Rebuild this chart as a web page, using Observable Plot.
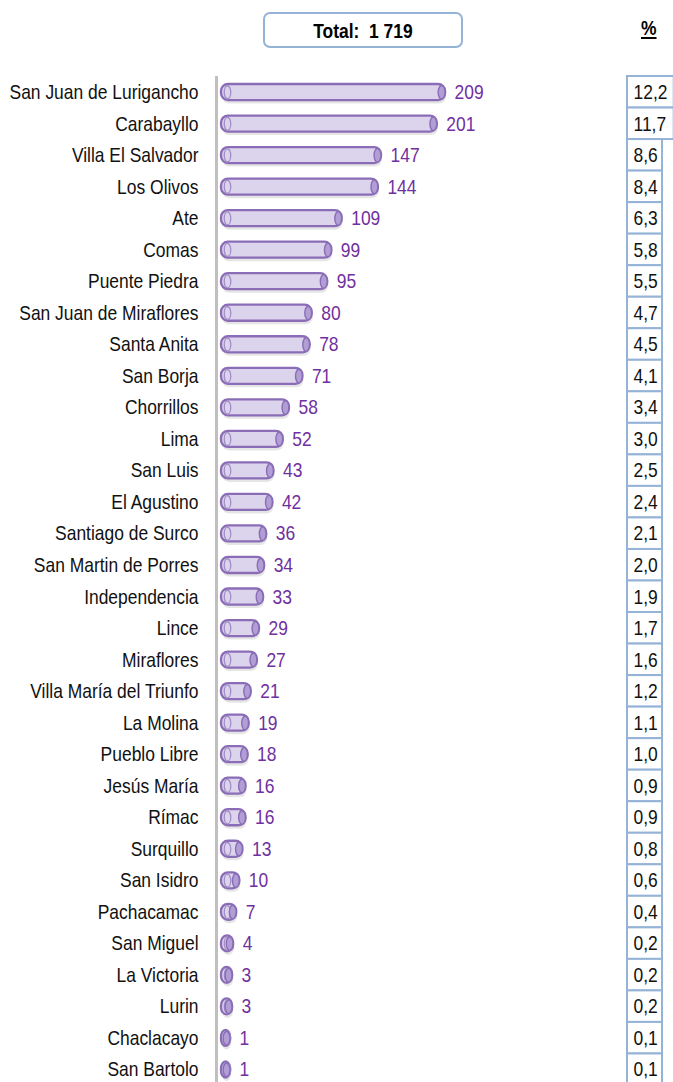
<!DOCTYPE html>
<html><head><meta charset="utf-8">
<script src="https://cdn.jsdelivr.net/npm/d3@7"></script>
<script src="https://cdn.jsdelivr.net/npm/@observablehq/plot@0.6"></script>
<style>
body{margin:0;background:#fff;font-family:"Liberation Sans",Arial,sans-serif;}
#wrap{position:relative;width:673px;height:1082px;overflow:hidden;}
#head{position:relative;height:76px;}
#total{position:absolute;left:263px;top:12px;width:196px;height:32px;border:2px solid #95B3D7;border-radius:7px;text-align:center;line-height:33px;font-weight:bold;font-size:21px;color:#000;white-space:pre;}
#total span{display:inline-block;transform:scaleX(0.83);}
#pcthead{position:absolute;left:641px;top:16px;font-weight:bold;font-size:21px;text-decoration:underline;transform:scaleX(0.83);transform-origin:left center;}
#pct{position:absolute;left:625px;top:76px;}
#main{height:1009px;}
</style></head>
<body><div id="wrap"><div id="head"><div id="total"><span></span></div><div id="pcthead">%</div></div><div id="main"></div><div id="pct"></div></div>
<script>
const totalLabel = "Total:  1 719";
const districts = ["San Juan de Lurigancho","Carabayllo","Villa El Salvador","Los Olivos","Ate","Comas","Puente Piedra","San Juan de Miraflores","Santa Anita","San Borja","Chorrillos","Lima","San Luis","El Agustino","Santiago de Surco","San Martin de Porres","Independencia","Lince","Miraflores","Villa María del Triunfo","La Molina","Pueblo Libre","Jesús María","Rímac","Surquillo","San Isidro","Pachacamac","San Miguel","La Victoria","Lurin","Chaclacayo","San Bartolo"];
const counts = [209,201,147,144,109,99,95,80,78,71,58,52,43,42,36,34,33,29,27,21,19,18,16,16,13,10,7,4,3,3,1,1];
const pcts = ["12,2","11,7","8,6","8,4","6,3","5,8","5,5","4,7","4,5","4,1","3,4","3,0","2,5","2,4","2,1","2,0","1,9","1,7","1,6","1,2","1,1","1,0","0,9","0,9","0,8","0,6","0,4","0,2","0,2","0,2","0,1","0,1"];

const data = districts.map((name,i)=>({name, value:counts[i], pct:pcts[i]}));
document.querySelector("#total span").textContent = totalLabel;

const ellipse = {draw(ctx, size){
  const r = Math.sqrt(size/Math.PI), rx = r*0.5, ry = r, k = 0.5523;
  ctx.moveTo(rx,0);
  ctx.bezierCurveTo(rx, ry*k, rx*k, ry, 0, ry);
  ctx.bezierCurveTo(-rx*k, ry, -rx, ry*k, -rx, 0);
  ctx.bezierCurveTo(-rx, -ry*k, -rx*k, -ry, 0, -ry);
  ctx.bezierCurveTo(rx*k, -ry, rx, -ry*k, rx, 0);
  ctx.closePath();
}};

function narrow(svg, sx){
  svg.querySelectorAll("text").forEach(t => {
    const L = t.getComputedTextLength();
    if (L > 0) {
      t.setAttribute("textLength", (L * sx).toFixed(2));
      t.setAttribute("lengthAdjust", "spacingAndGlyphs");
    }
  });
}

const FONT = '"Liberation Sans", Arial, sans-serif';
const H = 1009;
const main = Plot.plot({
  width: 673, height: H,
  marginTop: 0, marginBottom: 0, marginLeft: 229, marginRight: 0,
  style: {fontFamily: FONT, background: "transparent", overflow: "visible"},
  x: {domain: [0, 430], range: [229, 673.6], axis: null},
  y: {domain: districts, axis: null, padding: 0, round: false},
  marks: [
    Plot.ruleX([0], {stroke: "#C0C0C0", strokeWidth: 3, dx: -13}),
    Plot.barX(data, {y: "name", x1: 0, x2: "value", insetLeft: -8, insetTop: 10, insetBottom: 5, rx: 7, fill: "#000", fillOpacity: 0.10, dx: 1, dy: 1}),
    Plot.barX(data, {y: "name", x1: 0, x2: "value", insetLeft: -8, insetTop: 8, insetBottom: 7.5, rx: 7, fill: "#DCD3EC", stroke: "#8A6DB6", strokeWidth: 2.3}),
    Plot.dot(data, {y: "name", x: 0, dx: -2, r: 6.5, symbol: ellipse, fill: "none", stroke: "#A28DC6", strokeWidth: 1.3}),
    Plot.dot(data, {y: "name", x: "value", dx: -4, r: 6.8, symbol: ellipse, fill: "#B09ED4", stroke: "#8A6DB6", strokeWidth: 1.4}),
    Plot.text(data, {y: "name", x: 0, text: "name", dx: -31, textAnchor: "end", fontSize: 21, fill: "#111"}),
    Plot.text(data, {y: "name", x: "value", text: d => String(d.value), dx: 9, textAnchor: "start", fontSize: 21, fill: "#7030A0"})
  ]
});
document.getElementById("main").appendChild(main);
narrow(main, 0.83);

const pct = Plot.plot({
  width: 48, height: H,
  marginTop: 0, marginBottom: 0, marginLeft: 0, marginRight: 0,
  style: {fontFamily: FONT, background: "transparent", overflow: "visible"},
  x: {domain: [0, 4], range: [2, 48.7], axis: null},
  y: {domain: districts, axis: null, padding: 0, round: false},
  marks: [
    Plot.barX(data, {y: "name", x1: 0, x2: d => d.pct.length, fill: "#fff", stroke: "#95B3D7", strokeWidth: 2}),
    Plot.text(data, {y: "name", x: 0, text: "pct", dx: 6, textAnchor: "start", fontSize: 21, fill: "#111"})
  ]
});
document.getElementById("pct").appendChild(pct);
narrow(pct, 0.83);
</script></body></html>
